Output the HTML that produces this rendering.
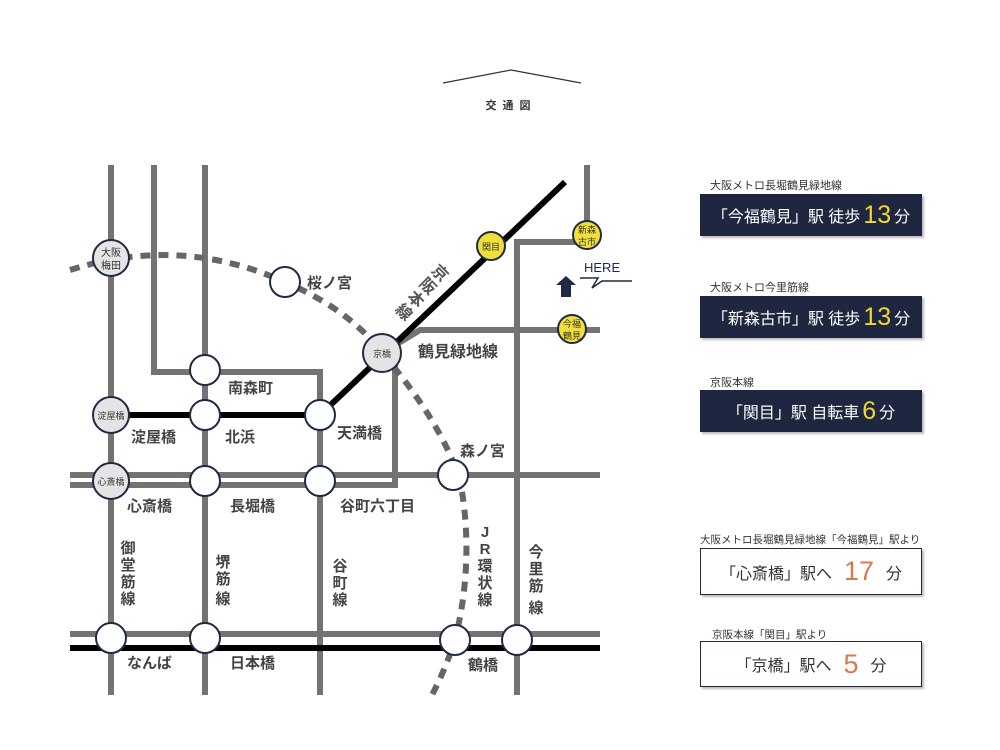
<!DOCTYPE html>
<html><head><meta charset="utf-8"><style>
body{margin:0;width:1000px;height:750px;background:#fff;overflow:hidden;position:relative;font-family:"Liberation Sans","Noto Sans CJK JP",sans-serif}
.lab{position:absolute;font-size:11px;color:#333;white-space:nowrap}
.box{position:absolute;left:700px;width:222px;display:flex;align-items:center;justify-content:center;white-space:nowrap;box-sizing:border-box}
.dk{background:#1e2640;color:#fff;height:42px;font-size:16px;box-shadow:2px 2px 2px #bbb}
.dk b{color:#f0d830;font-weight:normal;font-size:25px;margin:0 3px}
.wt{background:#fff;border:1.5px solid #1e2640;color:#333;font-size:16px;box-shadow:2px 2px 2px #bbb}
.wt b{color:#d9784a;font-weight:normal;font-size:27px;margin:0 12px}
</style></head><body>
<svg width="1000" height="750" style="position:absolute;left:0;top:0" font-family="Liberation Sans, Noto Sans CJK JP, sans-serif">
<polyline points="443,83 511,70 581,83" fill="none" stroke="#333" stroke-width="1.2"/>
<text x="511" y="109" font-size="11" font-weight="bold" text-anchor="middle" fill="#333" letter-spacing="6">交通図</text>
<g stroke="#737373" stroke-width="6" fill="none">
<line x1="111" y1="165" x2="111" y2="695"/>
<polyline points="154,165 154,372 320,372 320,695"/>
<line x1="205" y1="165" x2="205" y2="695"/>
<polyline points="70,485 395,485 395,355"/>
<polyline points="382,353 420,330 600,330"/>
<line x1="70" y1="475" x2="600" y2="475"/>
<polyline points="587,165 587,242 517,242 517,695"/>
<line x1="70" y1="634" x2="600" y2="634"/>
</g>
<g stroke="#000" stroke-width="6" fill="none">
<line x1="70" y1="648" x2="600" y2="648"/>
<polyline points="565,182 320,415 111,415"/>
</g>
<path d="M70,270 Q180,235 285,282 Q350,310 382,353 Q440,420 460,480 Q475,560 455,640 Q445,670 432,695" fill="none" stroke="#666" stroke-width="6" stroke-dasharray="10,8"/>
<g stroke="#1f2a44" stroke-width="2">
<circle cx="285" cy="282" r="15" fill="#fff"/>
<circle cx="205" cy="370" r="15" fill="#fff"/>
<circle cx="205" cy="415" r="15" fill="#fff"/>
<circle cx="320" cy="415" r="15" fill="#fff"/>
<circle cx="205" cy="481" r="15" fill="#fff"/>
<circle cx="320" cy="481" r="15" fill="#fff"/>
<circle cx="453" cy="475" r="15" fill="#fff"/>
<circle cx="111" cy="638" r="15" fill="#fff"/>
<circle cx="205" cy="638" r="15" fill="#fff"/>
<circle cx="455" cy="640" r="15" fill="#fff"/>
<circle cx="517" cy="640" r="15" fill="#fff"/>
<circle cx="111" cy="258" r="18" fill="#e4e4e4"/>
<circle cx="111" cy="415" r="18" fill="#e4e4e4"/>
<circle cx="111" cy="481" r="18" fill="#e4e4e4"/>
<circle cx="382" cy="353" r="19" fill="#e4e4e4"/>
<circle cx="491" cy="246" r="14" fill="#f0df3a"/>
<circle cx="587" cy="235" r="14" fill="#f0df3a"/>
<circle cx="572" cy="329" r="14" fill="#f0df3a"/>
</g>
<g font-size="10" fill="#333" text-anchor="middle">
<text x="111" y="256">大阪</text><text x="111" y="269">梅田</text>
<text x="111" y="419" font-size="9">淀屋橋</text>
<text x="111" y="485" font-size="9">心斎橋</text>
<text x="382" y="357" font-size="9">京橋</text>
<text x="491" y="250" font-size="9">関目</text>
<text x="587" y="233" font-size="9">新森</text><text x="587" y="245" font-size="9">古市</text>
<text x="572" y="327" font-size="9">今福</text><text x="572" y="339" font-size="9">鶴見</text>
</g>
<g font-size="15" font-weight="bold" fill="#444">
<text x="307" y="288">桜ノ宮</text>
<text x="228" y="393">南森町</text>
<text x="131" y="442">淀屋橋</text>
<text x="225" y="442">北浜</text>
<text x="337" y="438">天満橋</text>
<text x="460" y="456">森ノ宮</text>
<text x="127" y="511">心斎橋</text>
<text x="230" y="511">長堀橋</text>
<text x="340" y="511">谷町六丁目</text>
<text x="418" y="357" font-size="16">鶴見緑地線</text>
<text x="127" y="668">なんば</text>
<text x="230" y="668">日本橋</text>
<text x="468" y="670">鶴橋</text>
</g>
<g font-size="15" font-weight="bold" fill="#444" text-anchor="middle">
<text x="128" y="553">御</text><text x="128" y="570">堂</text><text x="128" y="587">筋</text><text x="128" y="604">線</text>
<text x="223" y="567">堺</text><text x="223" y="584">筋</text><text x="223" y="604">線</text>
<text x="340" y="571">谷</text><text x="340" y="588">町</text><text x="340" y="605">線</text>
<text x="485" y="537">J</text><text x="485" y="554">R</text><text x="485" y="571">環</text><text x="485" y="588">状</text><text x="485" y="605">線</text>
<text x="536" y="557">今</text><text x="536" y="574">里</text><text x="536" y="591">筋</text><text x="536" y="613">線</text>
</g>
<g font-size="16" font-weight="bold" fill="#555" text-anchor="middle">
<text transform="translate(436,277) rotate(45)">京</text>
<text transform="translate(424,290) rotate(45)">阪</text>
<text transform="translate(412,303) rotate(45)">本</text>
<text transform="translate(400,316) rotate(45)">線</text>
</g>
<polygon points="566,276 576,285 571,285 571,297 561,297 561,285 556,285" fill="#1f2a44"/>
<text x="584" y="272" font-size="13" fill="#1f2a44">HERE</text>
<polyline points="580,278 598,278 592,288 602,281 632,281" fill="none" stroke="#1f2a44" stroke-width="1.5"/>
</svg>
<div class="lab" style="left:710px;top:177px">大阪メトロ長堀鶴見緑地線</div>
<div class="box dk" style="top:194px">「今福鶴見」駅 徒歩<b>13</b>分</div>
<div class="lab" style="left:710px;top:279px">大阪メトロ今里筋線</div>
<div class="box dk" style="top:296px">「新森古市」駅 徒歩<b>13</b>分</div>
<div class="lab" style="left:710px;top:374px">京阪本線</div>
<div class="box dk" style="top:390px">「関目」駅 自転車 <b>6</b> 分</div>
<div class="lab" style="left:700px;top:532px;font-size:10.5px">大阪メトロ長堀鶴見緑地線「今福鶴見」駅より</div>
<div class="box wt" style="top:548px;height:47px">「心斎橋」駅へ<b>17</b>分</div>
<div class="lab" style="left:712px;top:627px;font-size:10.5px">京阪本線「関目」駅より</div>
<div class="box wt" style="top:641px;height:46px">「京橋」駅へ <b>5</b> 分</div>
</body></html>
